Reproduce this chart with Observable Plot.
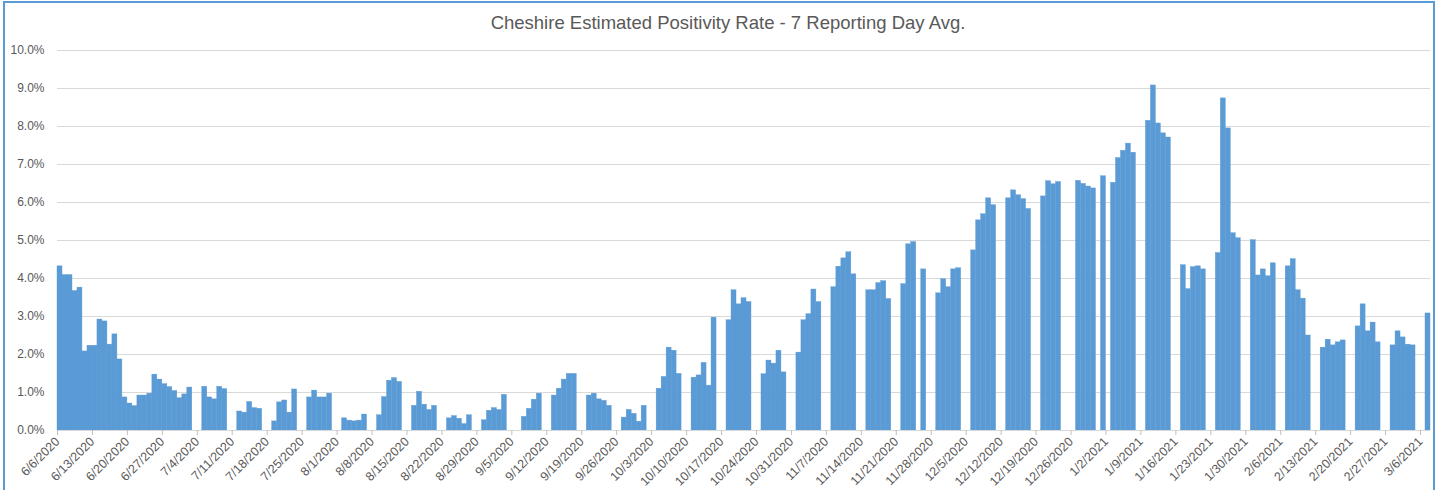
<!DOCTYPE html>
<html>
<head>
<meta charset="utf-8">
<script src="https://cdn.jsdelivr.net/npm/d3@7"></script>
<script src="https://cdn.jsdelivr.net/npm/@observablehq/plot@0.6"></script>
<style>
  html, body { margin: 0; padding: 0; background: #fff; }
  #wrap { position: relative; width: 1444px; height: 490px; overflow: hidden; background: #fff; font-family: "Liberation Sans", Arial, sans-serif; }
  #frame { position: absolute; left: 3px; top: 1px; width: 1432px; height: 520px; border: 2px solid #5b9bd5; pointer-events: none; box-sizing: border-box; }
  #title { height: 40px; line-height: 46px; text-align: center; font-size: 18.5px; color: #595959; padding-left: 12px; }
  svg { display: block; }
</style>
</head>
<body>
<div id="wrap">
  <div id="title">Cheshire Estimated Positivity Rate - 7 Reporting Day Avg.</div>
  <div id="chart"></div>
  <div id="frame"></div>
</div>
<script>
// Runs of consecutive reporting days: start date and daily values (%)
const runStarts = [
  "2020-06-06", "2020-07-05", "2020-07-12", "2020-07-19", "2020-07-26",
  "2020-08-02", "2020-08-09", "2020-08-16", "2020-08-23", "2020-08-30",
  "2020-09-07", "2020-09-13", "2020-09-20", "2020-09-27", "2020-10-04",
  "2020-10-11", "2020-10-18", "2020-10-25", "2020-11-01", "2020-11-08",
  "2020-11-15", "2020-11-22", "2020-11-26", "2020-11-29", "2020-12-06",
  "2020-12-13", "2020-12-20", "2020-12-27", "2021-01-01", "2021-01-03",
  "2021-01-10", "2021-01-17", "2021-01-24", "2021-01-31", "2021-02-07",
  "2021-02-14", "2021-02-21", "2021-02-28", "2021-03-07"
];
const runValues = [
  [4.32,4.09,4.09,3.67,3.76,2.08,2.23,2.23,2.92,2.87,2.26,2.53,1.87,0.87,0.71,0.64,0.92,0.92,0.97,1.47,1.34,1.22,1.14,1.04,0.85,0.95,1.13],
  [1.15,0.87,0.82,1.15,1.09],
  [0.50,0.47,0.75,0.59,0.57],
  [0.24,0.74,0.79,0.47,1.08],
  [0.87,1.05,0.87,0.87,0.97],
  [0.32,0.26,0.24,0.26,0.42],
  [0.40,0.88,1.31,1.38,1.28],
  [0.65,1.02,0.68,0.54,0.65],
  [0.32,0.38,0.31,0.17,0.40],
  [0.27,0.52,0.59,0.54,0.94],
  [0.36,0.57,0.81,0.97],
  [0.92,1.10,1.34,1.49,1.49],
  [0.92,0.97,0.82,0.78,0.65],
  [0.34,0.54,0.44,0.23,0.65],
  [1.10,1.41,2.18,2.10,1.49],
  [1.39,1.45,1.78,1.18,2.97],
  [2.90,3.69,3.32,3.48,3.38],
  [1.48,1.84,1.76,2.10,1.53],
  [2.05,2.90,3.06,3.71,3.38],
  [3.77,4.31,4.53,4.69,4.11],
  [3.69,3.69,3.88,3.93,3.46],
  [3.85,4.90,4.96],
  [4.24],
  [3.61,3.98,3.77,4.24,4.27],
  [4.74,5.53,5.69,6.11,5.93],
  [6.11,6.32,6.19,6.09,5.83],
  [6.16,6.56,6.48,6.54],
  [6.57,6.49,6.42,6.37],
  [6.69],
  [6.52,7.17,7.36,7.55,7.31],
  [8.15,9.08,8.08,7.82,7.71],
  [4.35,3.72,4.30,4.32,4.24],
  [4.67,8.74,7.95,5.19,5.06],
  [5.01,4.08,4.24,4.06,4.40],
  [4.32,4.51,3.69,3.47,2.50],
  [2.18,2.39,2.24,2.32,2.37],
  [2.74,3.32,2.61,2.84,2.32],
  [2.24,2.61,2.45,2.26,2.24],
  [3.08]
];
const yTicks = [0, 1, 2, 3, 4, 5, 6, 7, 8, 9, 10];
const xStart = "2020-06-06";
const xEnd = "2021-03-08";
const firstTick = "2020-06-06";
const lastTick = "2021-03-06";

const rows = [];
runStarts.forEach((s, i) => {
  const d0 = new Date(s);
  runValues[i].forEach((v, k) => {
    const d = d3.utcDay.offset(d0, k);
    rows.push({date: d, next: d3.utcDay.offset(d, 1), value: v});
  });
});

const xTicks = d3.utcDay.range(new Date(firstTick), d3.utcDay.offset(new Date(lastTick), 1), 7);
const fmtDate = d => `${d.getUTCMonth() + 1}/${d.getUTCDate()}/${d.getUTCFullYear()}`;

const chart = Plot.plot({
  width: 1444,
  height: 450,
  marginTop: 10,
  marginBottom: 60,
  marginLeft: 57,
  marginRight: 14,
  style: {fontFamily: "'Liberation Sans', Arial, sans-serif", fontSize: "12px", color: "#595959", background: "#fff"},
  x: {type: "utc", domain: [new Date(xStart), new Date(xEnd)]},
  y: {domain: [0, 10]},
  marks: [
    Plot.gridY(yTicks, {stroke: "#d9d9d9", strokeOpacity: 1, strokeWidth: 1}),
    Plot.rectY(rows, {x1: "date", x2: "next", y: "value", fill: "#5b9bd5", stroke: "#5b9bd5", strokeWidth: 0.4}),
    Plot.ruleY([0], {stroke: "#d9d9d9", strokeWidth: 1}),
    Plot.axisY(yTicks, {label: null, tickSize: 0, tickPadding: 13, tickFormat: d => d.toFixed(1) + "%", fill: "#595959", fontSize: 12}),
    Plot.axisX(xTicks, {label: null, tickSize: 5, tickRotate: -45, tickFormat: fmtDate, stroke: "#bfbfbf", fill: "#595959", fontSize: 12.5, tickPadding: 4})
  ]
});
document.getElementById("chart").appendChild(chart);
</script>
</body>
</html>
